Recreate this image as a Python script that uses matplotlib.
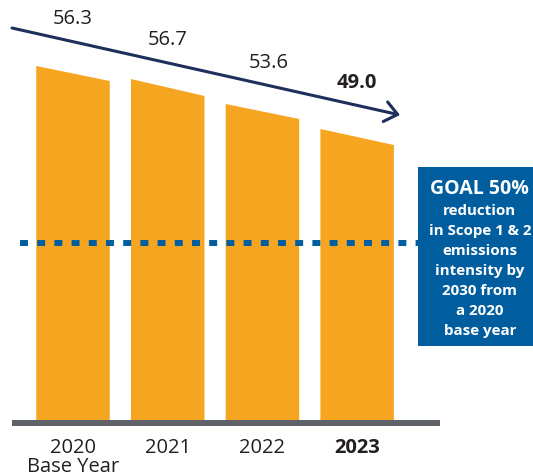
import matplotlib
matplotlib.use("Agg")
import matplotlib.pyplot as plt
from matplotlib.patches import FancyArrowPatch, ArrowStyle, Rectangle

plt.rcParams['font.family'] = ['Open Sans', 'DejaVu Sans']

# data
years = ["2020", "2021", "2022", "2023"]
year_sub = ["Base Year", "", "", ""]
values = [56.3, 56.7, 53.6, 49.0]
# slanted bar tops (left edge, right edge), chart units above the baseline
bar_left = [354, 341, 316, 291]
bar_right = [339, 324, 301, 275]
goal_level = 177
goal_lines = ["reduction", "in Scope 1 & 2", "emissions", "intensity by",
              "2030 from", "a 2020", "base year"]

ORANGE = '#f6a521'
NAVY = '#1e2f5c'
BLUE = '#005e9e'
TEXT = '#231f20'
GRAY = '#5f6369'

fig = plt.figure(figsize=(5.33, 4.76), dpi=100)
ax = fig.add_axes([0, 0, 1, 1])
ax.set_xlim(-0.771, 4.857)
ax.set_ylim(-56, 420)
ax.axis('off')

w = 0.776
for i, (hl, hr) in enumerate(zip(bar_left, bar_right)):
    ax.fill([i - w / 2, i - w / 2, i + w / 2, i + w / 2],
            [0, hl, hr, 0], color=ORANGE, lw=0, zorder=2)

# baseline
ax.add_patch(Rectangle((-0.644, -6), 4.52, 6, color=GRAY, lw=0, zorder=3))

# goal dashed line
ax.plot([-0.56, 3.64], [goal_level, goal_level], color=BLUE, lw=4.3,
        dashes=(1.33, 1.55), solid_capstyle='butt', dash_capstyle='butt', zorder=4)

# goal box
ax.add_patch(Rectangle((3.643, 74), 2, 179, color=BLUE, lw=0, zorder=5))
ax.text(4.295, 420 - 194, "GOAL 50%", color='white', fontsize=14.0,
        fontweight='bold', ha='center', va='baseline', zorder=6)
for k, line in enumerate(goal_lines):
    ax.text(4.295, 420 - (215 + 20 * k), line, color='white', fontsize=10.9,
            fontweight='bold', ha='center', va='baseline', zorder=6)

# trend arrow
x0, y0 = -0.644, 392
x1, y1 = 3.453, 305
arrow = FancyArrowPatch((x0, y0), (x1, y1),
                        arrowstyle=ArrowStyle('->', head_length=0.45, head_width=0.36),
                        mutation_scale=20, color=NAVY, lw=2.2,
                        shrinkA=0, shrinkB=0, zorder=6)
ax.add_patch(arrow)

slope = (y1 - y0) / (x1 - x0)
label_dx = [0, 0, 0.07, 0]
for i, v in enumerate(values):
    x = i + label_dx[i]
    y = y0 + slope * (x - x0) + 17.5
    last = i == len(values) - 1
    ax.text(x, y, f"{v:.1f}", color=TEXT, fontsize=14.5,
            fontweight='bold' if last else 'normal',
            ha='center', va='baseline', zorder=7)

for i, (yr, sub) in enumerate(zip(years, year_sub)):
    last = i == len(years) - 1
    ax.text(i, -33, yr, color=TEXT, fontsize=14.5,
            fontweight='bold' if last else 'normal', ha='center', va='baseline')
    if sub:
        ax.text(i, -51.5, sub, color=TEXT, fontsize=14.5, ha='center', va='baseline')

fig.savefig('out.png', dpi=100)
